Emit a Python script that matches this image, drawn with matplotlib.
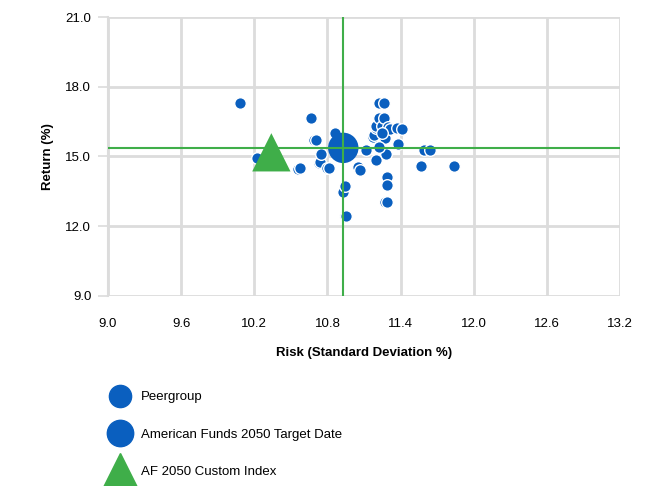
import matplotlib.pyplot as plt
from matplotlib.lines import Line2D

plt.rcParams['font.family'] = ['Liberation Sans', 'DejaVu Sans']

# peer group risk / return
peer_risk = [10.08, 10.22, 10.56, 10.575, 10.665, 10.69, 10.71, 10.73, 10.74, 10.75,
             10.80, 10.81, 10.86, 10.93, 10.94, 10.94, 10.95, 11.05, 11.07, 11.12,
             11.17, 11.18, 11.20, 11.20, 11.20, 11.22, 11.22, 11.25, 11.26, 11.26,
             11.27, 11.27, 11.29, 11.29, 11.29, 11.30, 11.31, 11.37, 11.38, 11.41,
             11.57, 11.59, 11.64, 11.84, 11.28, 11.25, 11.22]
peer_return = [17.31, 14.92, 14.45, 14.49, 16.64, 15.70, 15.70, 14.71, 14.78, 15.12,
               14.49, 14.49, 16.02, 13.49, 13.73, 12.44, 12.46, 14.56, 14.42, 15.30,
               15.85, 15.92, 14.85, 16.21, 16.31, 17.31, 16.64, 16.31, 17.31, 16.64,
               15.78, 13.06, 14.10, 13.77, 13.04, 16.26, 16.17, 16.21, 15.55, 16.17,
               14.59, 15.26, 15.26, 14.59, 15.10, 16.00, 15.40]

fund_risk, fund_return = [10.93], [15.37]
index_risk, index_return = [10.34], [15.18]

x_ticks = [9.0, 9.6, 10.2, 10.8, 11.4, 12.0, 12.6, 13.2]
y_ticks = [9.0, 12.0, 15.0, 18.0, 21.0]

blue = '#0a5fbf'
green = '#3fae49'
grid = '#dcdcdc'

fig = plt.figure(figsize=(6.52, 4.86), dpi=100)
ax = fig.add_axes([0.1656, 0.391, 0.7854, 0.574])

ax.scatter(peer_risk, peer_return, s=70, color=blue, edgecolors='white',
           linewidths=1.0, zorder=3)
ax.scatter(index_risk, index_return, s=760, marker='^', color=green,
           edgecolors='none', zorder=4)
ax.scatter(fund_risk, fund_return, s=480, color=blue, edgecolors='none', zorder=5)

ax.axvline(fund_risk[0], color=green, lw=1.5, zorder=6)
ax.axhline(fund_return[0], color=green, lw=1.5, zorder=6)

ax.set_xlim(9.0, 13.2)
ax.set_ylim(9.0, 21.0)
ax.set_xticks(x_ticks)
ax.set_yticks(y_ticks)
ax.set_xticklabels(['%.1f' % v for v in x_ticks])
ax.set_yticklabels(['%.1f' % v for v in y_ticks])
ax.grid(True, color=grid, lw=2, zorder=0)
ax.set_axisbelow(True)
for s in ['top', 'right', 'bottom']:
    ax.spines[s].set_visible(False)
ax.spines['left'].set_color(grid)
ax.spines['left'].set_linewidth(1.5)
ax.tick_params(axis='y', length=7, width=1.2, color=grid, pad=5, labelsize=9.5)
ax.tick_params(axis='x', length=0, pad=16, labelsize=9.5)

ax.set_xlabel('Risk (Standard Deviation %)', fontweight='bold', fontsize=9.5, labelpad=12)
ax.set_ylabel('Return (%)', fontweight='bold', fontsize=9.5, labelpad=8)

handles = [
    Line2D([], [], ls='none', marker='o', color=blue, markersize=16),
    Line2D([], [], ls='none', marker='o', color=blue, markersize=19),
    Line2D([], [], ls='none', marker='^', color=green, markersize=24),
]
labels = ['Peergroup', 'American Funds 2050 Target Date', 'AF 2050 Custom Index']
fig.legend(handles, labels, loc='upper left', bbox_to_anchor=(0.155, 0.206),
           frameon=False, fontsize=9.5, labelspacing=1.9, handletextpad=0.65,
           borderaxespad=0)

fig.savefig('out.png', dpi=100)
